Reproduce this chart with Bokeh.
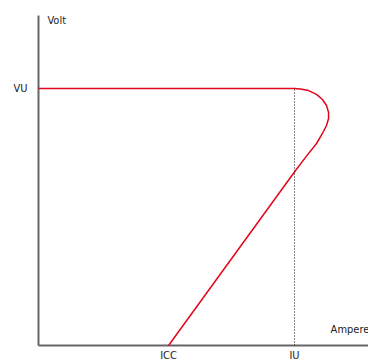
from bokeh.plotting import figure
from bokeh.models import Range1d
from bokeh.core.properties import value
from bokeh.embed import file_html
from bokeh.resources import INLINE

# Characteristic curve (Ampere, Volt) in units of IU / VU
curve_x = [0.0, 1.0, 1.023, 1.055, 1.086, 1.109, 1.125, 1.133, 1.133, 1.125, 1.109, 1.086, 1.043, 1.004, 0.508]
curve_y = [1.0, 1.0, 0.998, 0.992, 0.977, 0.957, 0.934, 0.907, 0.883, 0.856, 0.825, 0.786, 0.732, 0.681, 0.0]

x_tick_values = [0.508, 1.0]
x_tick_labels = ["ICC", "IU"]
y_tick_values = [1.0]
y_tick_labels = ["VU"]
x_axis_title = "Ampere"
y_axis_title = "Volt"
x_axis_end = 1.3
y_axis_end = 1.284

FONT = "DejaVu Sans Condensed"

p = figure(width=368, height=362, output_backend="svg", toolbar_location=None,
           x_axis_type=None, y_axis_type=None, min_border=0,
           x_range=Range1d(-0.1484, 1.289), y_range=Range1d(-0.0661, 1.3424))
p.outline_line_color = None
p.grid.visible = False

# axes
p.line([0, 0], [0, y_axis_end], line_color="#666666", line_width=2)
p.line([0, x_axis_end], [0, 0], line_color="#666666", line_width=2)

# dotted guide at IU
p.line([x_tick_values[1], x_tick_values[1]], [0, y_tick_values[0]],
       line_color="#111111", line_width=1, line_dash="1 2")

# curve
p.line(curve_x, curve_y, line_color="#e3051b", line_width=1.5)

# tick labels
p.text(x=x_tick_values, y=[-0.012] * len(x_tick_values), text=x_tick_labels,
       text_font=value(FONT), text_font_size="11px", text_color="#222222",
       text_align="center", text_baseline="top")
p.text(x=[-0.043] * len(y_tick_values), y=y_tick_values, text=y_tick_labels,
       text_font=value(FONT), text_font_size="11px", text_color="#222222",
       text_align="right", text_baseline="middle")

# axis titles
p.text(x=[1.141], y=[0.063], text=[x_axis_title],
       text_font=value(FONT), text_font_size="11px", text_color="#222222",
       text_align="left", text_baseline="middle")
p.text(x=[0.035], y=[1.264], text=[y_axis_title],
       text_font=value(FONT), text_font_size="11px", text_color="#222222",
       text_align="left", text_baseline="middle")

open("out.html", "w").write(file_html(p, INLINE))
